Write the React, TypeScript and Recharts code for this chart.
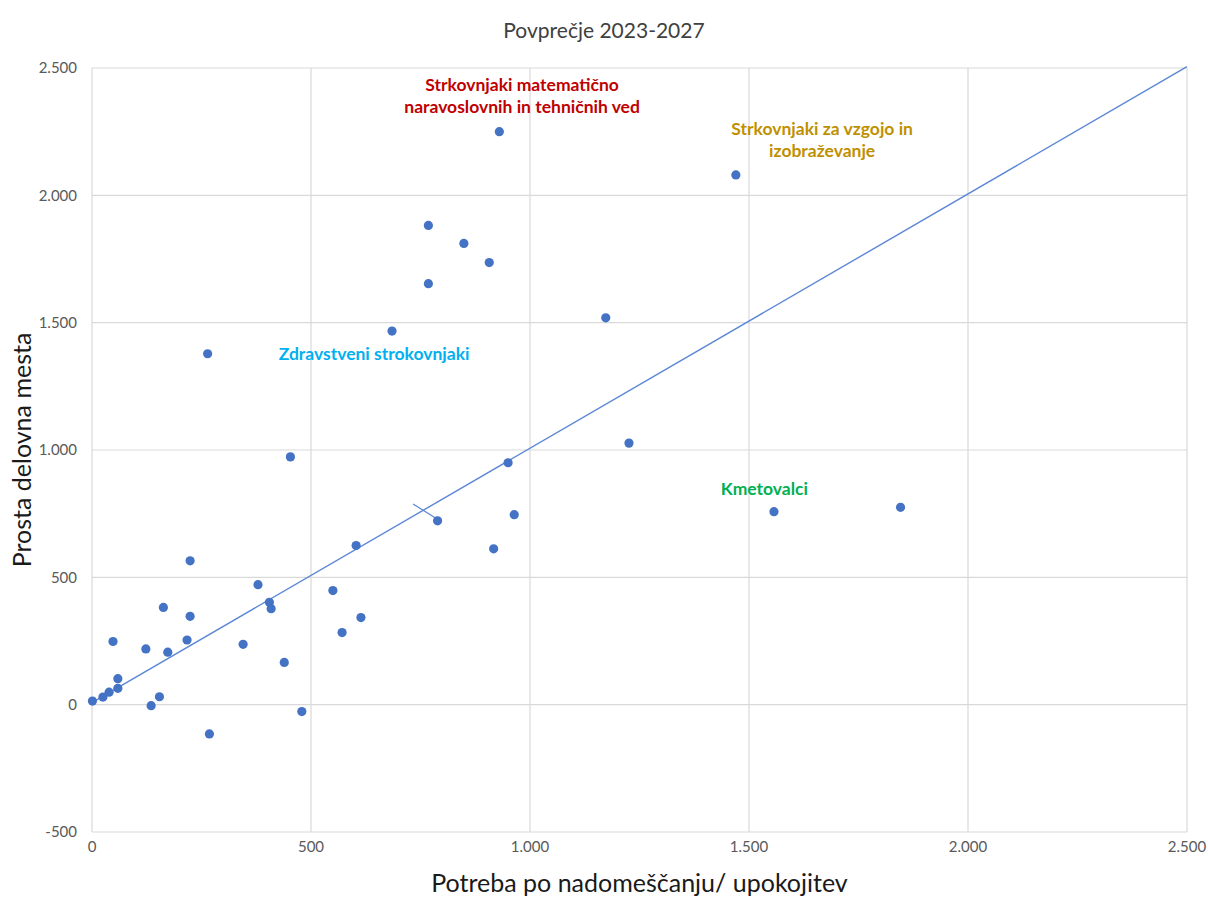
import {
  ScatterChart,
  Scatter,
  XAxis,
  YAxis,
  CartesianGrid,
  ReferenceLine,
  ReferenceDot,
  Label,
} from "recharts";

// replacement need (retirements) vs. vacancies, average 2023-2027
const replacementNeed = [
  1, 25, 39, 59, 59, 48, 135, 154, 123, 163, 173, 217, 224, 224, 268, 345,
  379, 405, 409, 439, 479, 550, 571, 614, 603, 453, 950, 789, 964, 917, 1226,
  930, 768, 849, 907, 768, 685, 264, 1173, 1470, 1557, 1846,
];
const vacancies = [
  14, 30, 49, 64, 102, 248, -4, 31, 219, 382, 206, 254, 347, 565, -115, 237,
  471, 402, 377, 166, -27, 448, 283, 342, 625, 973, 950, 722, 746, 612, 1027,
  2250, 1882, 1811, 1736, 1653, 1467, 1378, 1519, 2080, 758, 775,
];

const trendX = [1, 2500];
const trendY = [9, 2505];
const stubX = [733, 788];
const stubY = [788, 729];

const xTicks = [0, 500, 1000, 1500, 2000, 2500];
const yTicks = [-500, 0, 500, 1000, 1500, 2000, 2500];

const noteLines = [
  ["Strkovnjaki matematično", "naravoslovnih in tehničnih ved"],
  ["Strkovnjaki za vzgojo in", "izobraževanje"],
  ["Zdravstveni strokovnjaki"],
  ["Kmetovalci"],
];
const noteX = [982, 1667, 644, 1535];
const noteY = [2433, 2260, 1376, 847];
const noteColors = ["#c00000", "#bf9000", "#00b0f0", "#00b050"];

const points = replacementNeed.map((x, i) => ({ x, y: vacancies[i] }));

const fmt = (v: number) => String(v).replace(/\B(?=(\d{3})+(?!\d))/g, ".");

const Dot = (props: any) => (
  <circle cx={props.cx} cy={props.cy} r={4.6} fill="#4472c4" />
);

const noteShape = (i: number) => (props: any) => (
  <text
    textAnchor="middle"
    fill={noteColors[i]}
    fontWeight={700}
    fontSize={17.5}
    fontFamily="Lato"
  >
    {noteLines[i].map((line, j) => (
      <tspan key={j} x={props.cx} y={props.cy + j * 22} dy="0.35em">
        {line}
      </tspan>
    ))}
  </text>
);

export default function App() {
  return (
    <div
      style={{
        position: "absolute",
        left: 0,
        top: 0,
        width: 1208,
        height: 900,
        background: "#fff",
        fontFamily: "Lato",
      }}
    >
      <div
        style={{
          position: "absolute",
          top: 18,
          left: 0,
          width: 1208,
          textAlign: "center",
          fontSize: 21,
          lineHeight: "24px",
          color: "#404040",
        }}
      >
        Povprečje 2023-2027
      </div>
      <ScatterChart
        width={1208}
        height={900}
        margin={{ top: 68, right: 21, left: 12, bottom: 26 }}
      >
        <CartesianGrid stroke="#d9d9d9" strokeWidth={1.2} />
        <XAxis
          type="number"
          dataKey="x"
          domain={[0, 2500]}
          ticks={xTicks}
          tickFormatter={fmt}
          axisLine={false}
          tickLine={false}
          tickMargin={3}
          height={42}
          tick={{ fontSize: 15, fill: "#595959" }}
        >
          <Label
            value="Potreba po nadomeščanju/ upokojitev"
            position="bottom"
            offset={0}
            style={{ fontSize: 25, fill: "#1a1a1a" }}
          />
        </XAxis>
        <YAxis
          type="number"
          dataKey="y"
          domain={[-500, 2500]}
          ticks={yTicks}
          tickFormatter={fmt}
          axisLine={false}
          tickLine={false}
          tickMargin={9}
          width={80}
          tick={{ fontSize: 15, fill: "#595959" }}
        >
          <Label
            value="Prosta delovna mesta"
            angle={-90}
            position="insideLeft"
            offset={10}
            style={{ fontSize: 25, fill: "#1a1a1a", textAnchor: "middle" }}
          />
        </YAxis>
        <ReferenceLine
          segment={[
            { x: trendX[0], y: trendY[0] },
            { x: trendX[1], y: trendY[1] },
          ]}
          stroke="#5b87d6"
          strokeWidth={1.4}
          ifOverflow="visible"
        />
        <ReferenceLine
          segment={[
            { x: stubX[0], y: stubY[0] },
            { x: stubX[1], y: stubY[1] },
          ]}
          stroke="#5b87d6"
          strokeWidth={1.2}
          ifOverflow="visible"
        />
        <Scatter data={points} shape={Dot} isAnimationActive={false} />
        {noteLines.map((_, i) => (
          <ReferenceDot
            key={i}
            x={noteX[i]}
            y={noteY[i]}
            r={0}
            shape={noteShape(i)}
            ifOverflow="visible"
          />
        ))}
      </ScatterChart>
    </div>
  );
}
